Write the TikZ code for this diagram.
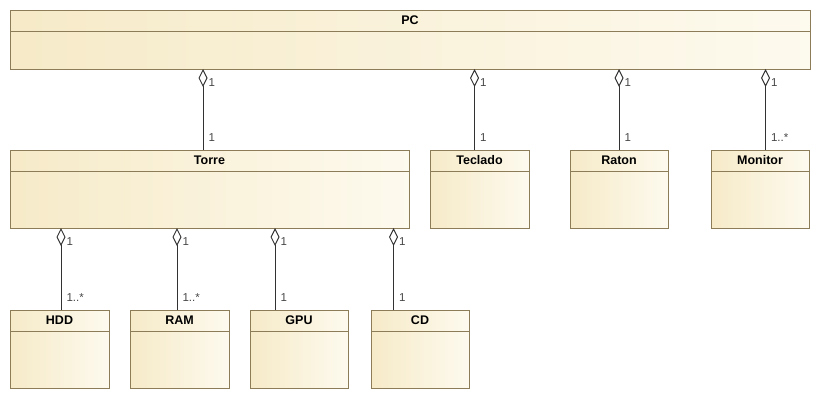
\documentclass[tikz,border=0pt]{standalone}
\usepackage{fontspec}
\setmainfont{Liberation Sans}
\usetikzlibrary{positioning, arrows.meta, calc}
\definecolor{classL}{RGB}{246, 234, 200}
\definecolor{classR}{RGB}{253, 250, 238}
\definecolor{classborder}{RGB}{140, 124, 88}
\definecolor{linkgray}{RGB}{50, 50, 50}
\definecolor{multgray}{RGB}{70, 70, 70}
\tikzset{
    classbox/.style={rectangle, anchor=north west, draw=classborder, line width=1pt, left color=classL, right color=classR, inner sep=0pt, outer sep=0pt},
    classtitle/.style={font=\fontsize{12.5}{14}\selectfont\bfseries, inner sep=0pt},
    classline/.style={draw=classborder, line width=1pt},
    aggr/.style={{Diamond[open, length=18pt, width=9pt]}-, line width=1pt, linkgray},
    mult/.style={font=\fontsize{11.5}{13}\selectfont, multgray, inner sep=0pt},
}
% class box: name, x, y, width, height, title
\newcommand{\umlclass}[6]{%
    \node[classbox, minimum width=#4pt, minimum height=#5pt] (#1) at (#2,#3) {};
    \node[classtitle] (#1-title) at ([yshift=-10.5pt]#1.north) {#6};
    \draw[classline] ([yshift=-21pt]#1.north west) -- ([yshift=-21pt]#1.north east);
}
\begin{document}
\begin{tikzpicture}[x=1pt, y=-1pt]
\useasboundingbox (0,0) rectangle (821,400);
\umlclass{pc}{10}{10}{800}{59}{PC}
\umlclass{torre}{10}{150}{399}{78}{Torre}
\umlclass{teclado}{430}{150}{99}{78}{Teclado}
\umlclass{raton}{570}{150}{98}{78}{Raton}
\umlclass{monitor}{711}{150}{98}{78}{Monitor}
\umlclass{hdd}{10}{310}{99}{78}{HDD}
\umlclass{ram}{130}{310}{99}{78}{RAM}
\umlclass{gpu}{250}{310}{98}{78}{GPU}
\umlclass{cd}{371}{310}{98}{78}{CD}
% connector feet
\coordinate (c-torre) at ([xshift=-6.5pt]torre.north);
\coordinate (c-teclado) at ([xshift=-5pt]teclado.north);
\coordinate (c-raton) at (raton.north);
\coordinate (c-monitor) at ([xshift=5.5pt]monitor.north);
\coordinate (c-hdd) at ([xshift=1.5pt]hdd.north);
\coordinate (c-ram) at ([xshift=-2.5pt]ram.north);
\coordinate (c-gpu) at ([xshift=-24pt]gpu.north);
\coordinate (c-cd) at ([xshift=-26.5pt]cd.north);
% PC parts
\draw[aggr] (pc.south -| c-torre) -- (c-torre)
    node[mult, at start, anchor=west, xshift=5pt, yshift=-14pt] {1}
    node[mult, at end, anchor=west, xshift=5pt, yshift=12.5pt] {1};
\draw[aggr] (pc.south -| c-teclado) -- (c-teclado)
    node[mult, at start, anchor=west, xshift=5pt, yshift=-14pt] {1}
    node[mult, at end, anchor=west, xshift=5pt, yshift=12.5pt] {1};
\draw[aggr] (pc.south -| c-raton) -- (c-raton)
    node[mult, at start, anchor=west, xshift=5pt, yshift=-14pt] {1}
    node[mult, at end, anchor=west, xshift=5pt, yshift=12.5pt] {1};
\draw[aggr] (pc.south -| c-monitor) -- (c-monitor)
    node[mult, at start, anchor=west, xshift=5pt, yshift=-14pt] {1}
    node[mult, at end, anchor=west, xshift=5pt, yshift=12.5pt] {1..*};
% Torre parts
\draw[aggr] (torre.south -| c-hdd) -- (c-hdd)
    node[mult, at start, anchor=west, xshift=5pt, yshift=-14pt] {1}
    node[mult, at end, anchor=west, xshift=5pt, yshift=12.5pt] {1..*};
\draw[aggr] (torre.south -| c-ram) -- (c-ram)
    node[mult, at start, anchor=west, xshift=5pt, yshift=-14pt] {1}
    node[mult, at end, anchor=west, xshift=5pt, yshift=12.5pt] {1..*};
\draw[aggr] (torre.south -| c-gpu) -- (c-gpu)
    node[mult, at start, anchor=west, xshift=5pt, yshift=-14pt] {1}
    node[mult, at end, anchor=west, xshift=5pt, yshift=12.5pt] {1};
\draw[aggr] (torre.south -| c-cd) -- (c-cd)
    node[mult, at start, anchor=west, xshift=5pt, yshift=-14pt] {1}
    node[mult, at end, anchor=west, xshift=5pt, yshift=12.5pt] {1};
\end{tikzpicture}
\end{document}
